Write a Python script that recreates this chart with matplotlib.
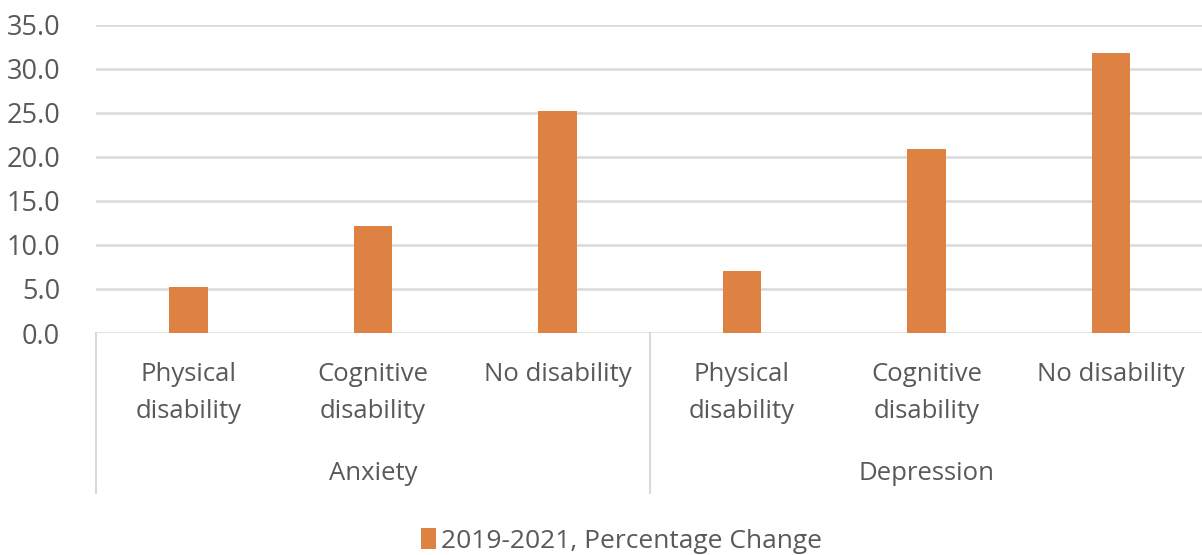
import matplotlib.pyplot as plt
from matplotlib.transforms import blended_transform_factory

# Data
groups = ["Anxiety", "Depression"]
categories = ["Physical\ndisability", "Cognitive\ndisability", "No disability",
              "Physical\ndisability", "Cognitive\ndisability", "No disability"]
pct_change = [5.2, 12.2, 25.2, 7.0, 20.9, 31.8]
yticks = [0, 5, 10, 15, 20, 25, 30, 35]
series_name = "2019-2021, Percentage Change"

BAR_COLOR = "#DE8244"
GRID_COLOR = "#D9D9D9"
TEXT_COLOR = "#595959"

plt.rcParams['font.family'] = ['Open Sans', 'DejaVu Sans']

fig = plt.figure(figsize=(12.02, 5.55), dpi=100)
ax = fig.add_axes([0.080, 0.400, 0.921, 0.555])

x = list(range(len(categories)))
bars = ax.bar(x, pct_change, width=0.21, color=BAR_COLOR, zorder=3,
              label=series_name)

ax.set_xlim(-0.5, len(categories) - 0.5)
ax.set_ylim(0, 35)
ax.set_yticks(yticks)
ax.set_yticklabels([f"{v:.1f}" for v in yticks], fontsize=19.5, color=TEXT_COLOR)
ax.tick_params(axis='y', length=0, pad=26)
ax.set_xticks([])
ax.yaxis.grid(True, color=GRID_COLOR, linewidth=1.8)
ax.set_axisbelow(True)
for s in ax.spines.values():
    s.set_visible(False)

# category labels and group labels under the axis
trans = blended_transform_factory(ax.transData, ax.transAxes)
for i, lab in enumerate(categories):
    ax.text(i, -0.095, lab, transform=trans, ha='center', va='top',
            fontsize=18.5, color=TEXT_COLOR, linespacing=1.6)

n_per_group = len(categories) // len(groups)
for g, name in enumerate(groups):
    center = g * n_per_group + (n_per_group - 1) / 2
    ax.text(center, -0.455, name, transform=trans, ha='center', va='center',
            fontsize=18.5, color=TEXT_COLOR)

# separator lines between groups
for g in range(len(groups) + 1):
    xs = g * n_per_group - 0.5
    ax.plot([xs, xs], [0, -0.52], transform=trans, color=GRID_COLOR,
            linewidth=1.5, clip_on=False)

fig.legend(handles=[bars], labels=[series_name], loc='center',
           bbox_to_anchor=(0.517, 0.025), frameon=False, fontsize=19,
           handlelength=0.55, handleheight=0.8, handletextpad=0.2,
           labelcolor=TEXT_COLOR)

fig.savefig("out.png", dpi=100, facecolor="white")
